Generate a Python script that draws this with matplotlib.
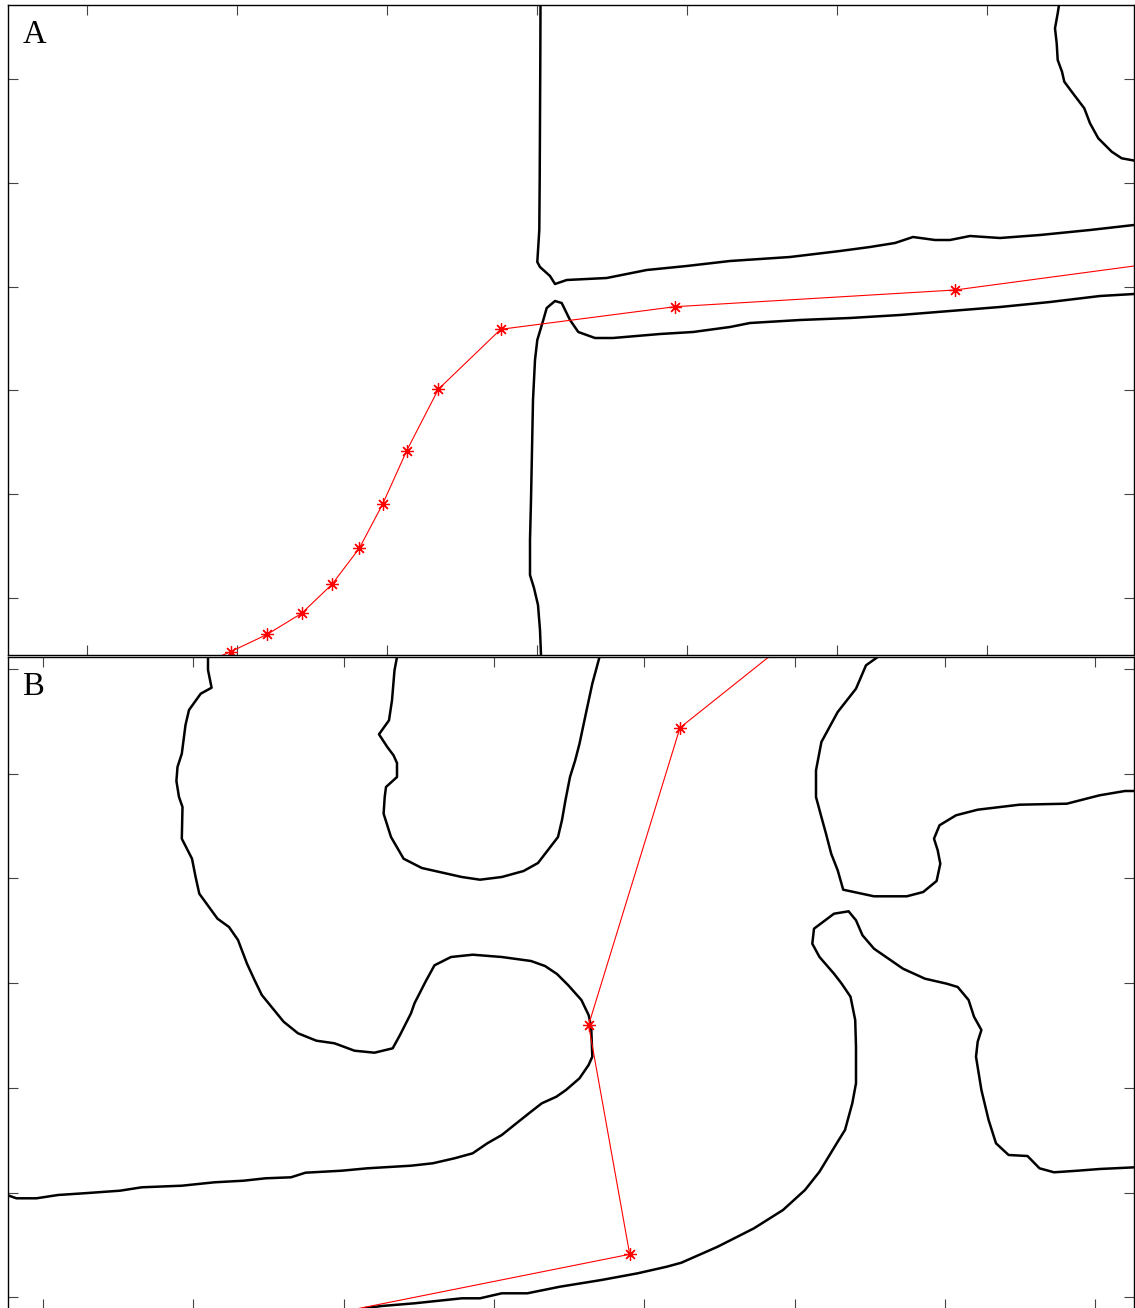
import numpy as np
import matplotlib
matplotlib.use("Agg")
import matplotlib.pyplot as plt

# all coordinates are in image pixel units (x to the right, y downward)

# panel A: black boundaries
a_top_x = [540.5, 540.3, 540, 539.7, 539.3, 537.3, 540, 550, 555, 566.7, 606.7, 646.7, 686.7, 730,
           790, 840, 870, 895, 913, 935, 950, 970, 1000, 1040, 1090, 1134]
a_top_y = [5, 60, 120, 180, 230, 262, 267, 276, 284, 280, 278, 270, 266, 261,
           257, 251, 247, 243, 237, 240, 240, 236, 238, 235, 230, 225]

a_low_x = [541, 540, 538, 534, 530, 530, 531, 532, 533, 535, 537.3, 543.3, 546.7, 555, 561.7, 570,
           578.3, 595, 613, 660, 693, 730, 750, 800, 850, 900, 950, 1000, 1050, 1100, 1134]
a_low_y = [655, 630, 605, 588, 575, 540, 500, 450, 400, 360, 340, 320, 308, 301, 303, 320,
           332, 338, 338, 334, 332, 327, 323, 320, 318, 315, 311, 307, 302, 296, 294]

a_corner_x = [1059, 1057.7, 1055, 1056.7, 1057.7, 1062, 1064.3, 1071.7, 1084.3, 1090, 1098.3,
              1111.7, 1121.7, 1135]
a_corner_y = [5, 13.3, 28.3, 43.3, 60, 71.7, 81.7, 91.7, 108.3, 123.3, 138.3, 151.7, 158.3, 160.7]

# panel A: red track
a_red_x = [205, 230.7, 267.3, 301.7, 332, 359.3, 382.7, 406.7, 438.3, 500.7, 675, 955, 1235]
a_red_y = [662.5, 651.7, 634.3, 613.3, 584.3, 548.3, 504, 450.7, 389.3, 329.3, 306.7, 290, 252.5]

# panel B: black boundaries
b_left_x = [208, 208, 211.6, 200.7, 189, 185.5, 181.8, 177.5, 176.4, 179, 182.5, 181.8, 192, 195.6,
            199.3, 217.5, 229, 238, 247, 254.5, 261.8, 283.6, 298, 316.4, 334.5, 354.5, 374.5,
            392.7, 400, 411, 414.5, 425.5, 434.5, 451, 472.7, 501.8, 531, 545, 557, 568, 581.4,
            588.6, 591.2, 592.3, 588.6, 579.5, 566, 556.4, 541.8, 531, 516.4, 501.8, 487.3,
            472.7, 454.5, 432.7, 411, 367.3, 341.8, 305.5, 291, 265.5, 243.6, 214.5, 181.8,
            141.8, 120, 83.6, 58, 36.4, 16.4, 9, 7]
b_left_y = [657, 670, 687.7, 693.7, 710, 725, 753.7, 767, 781, 797, 807, 838.7, 858.7, 877,
            893.7, 918.7, 927, 940, 963.7, 980, 995, 1021.7, 1033.3, 1040.7, 1043.3, 1050.7, 1052.7,
            1048.3, 1035, 1013.3, 1003.3, 981.7, 965.3, 957, 954.7, 957, 961, 966, 974, 985, 1000,
            1015, 1026.7, 1056.7, 1065, 1078.3, 1090, 1096.7, 1103.3, 1111.7, 1123.3, 1135, 1143.3,
            1153.3, 1158.3, 1163.3, 1165.7, 1168.3, 1170.7, 1172.7, 1177.3, 1178.3, 1180.7, 1182.3, 1185.7,
            1187.3, 1190.7, 1193.3, 1195, 1198.3, 1198.3, 1195.7, 1195]

b_cup_x = [397, 394.5, 392, 389, 379, 387.3, 393.5, 397, 397, 386, 384.7, 383.6, 391, 403.6, 421.8,
           461.8, 480, 501.8, 523.6, 538, 558, 562, 565.5, 570, 575.2, 579.5, 586, 592.3, 599.5]
b_cup_y = [657, 670.3, 700.3, 720.3, 734.3, 747, 755.3, 763, 777, 787, 797, 813.7, 837, 858.7, 868,
           877, 879.7, 877, 871, 863, 837, 820, 800, 777, 760.3, 743.7, 713, 683.7, 657]

b_low_x = [363.6, 381.8, 414.5, 461.8, 480, 501.8, 527.3, 560, 601.4, 637.7, 666.8, 681.4, 717.7, 754,
           783, 805, 819.5, 837.7, 845, 852.3, 856, 856, 855.2, 850.5, 841.4, 834, 819.5, 812.3,
           814, 834, 848.6, 856, 862.5, 874, 903, 925, 946.8, 957.7, 968.6, 974, 981.4, 977.7,
           976, 981.4, 988.6, 996, 1008.6, 1027.5, 1039.5, 1054, 1077.7, 1099.6, 1135]
b_low_y = [1308.3, 1306, 1303.3, 1298.3, 1298.3, 1293.3, 1293.3, 1286.7, 1280, 1273.3, 1266.7, 1262.7,
           1246.7, 1228.3, 1210, 1190, 1171.7, 1141.7, 1130, 1103.3, 1083.3, 1046.7, 1020, 996.7,
           983.3, 973.7, 957, 943.7, 928.7, 913.7, 911.3, 920.3, 935.3, 948.7, 968.7, 978.7, 983.7,
           987, 1000, 1016.7, 1030, 1041.7, 1056.7, 1090, 1120, 1143.3, 1155, 1156, 1168.3, 1172.3,
           1170.7, 1169, 1167.3]

b_right_x = [877.7, 866, 856, 837.7, 821.4, 816, 816, 821.4, 826, 831.2, 837.7, 843.2, 874, 906.8,
             923.2, 936.6, 940.3, 937.7, 934, 939.5, 956, 977.7, 1019.5, 1066.8, 1099.6, 1125, 1135]
b_right_y = [657, 665.3, 688.7, 712, 742, 770.3, 797, 817, 833.7, 853.7, 870.3, 889.7, 896.3, 896.3,
             892, 881, 863.7, 850.3, 838.7, 825.3, 815.3, 809.7, 804.7, 803.7, 795.3, 791, 791]

# panel B: red track
b_red_x = [790, 680, 588.6, 629.7, 300]
b_red_y = [640, 727.7, 1025, 1254.3, 1320.2]

W, H = 1135, 1308
fig = plt.figure(figsize=(W / 100, H / 100), dpi=100)

asterisk = (8, 2, 0)


def setup(ax, y0, y1, xticks, yticks, label):
    ax.set_xlim(8, 1134)
    ax.set_ylim(y1, y0)
    ax.set_xticks(xticks)
    ax.set_yticks(yticks)
    ax.tick_params(direction="in", length=7, width=0.8, color="#444444",
                   top=True, right=True, labelbottom=False, labelleft=False)
    for s in ax.spines.values():
        s.set_linewidth(1.0)
        s.set_color("black")
    ax.text(23, y0 + 38, label, family="Liberation Serif", fontsize=23.5,
            ha="left", va="baseline")


# panel A
axA = fig.add_axes([8 / W, (H - 655) / H, 1126 / W, 650 / H])
for xs, ys in [(a_top_x, a_top_y), (a_low_x, a_low_y), (a_corner_x, a_corner_y)]:
    axA.plot(xs, ys, color="black", lw=1.8, solid_joinstyle="round")
axA.plot(a_red_x, a_red_y, color="red", lw=0.8, marker=asterisk, ms=9, mew=0.9)
setup(axA, 5, 655, np.arange(87, 1134, 150), 79 + 103.8 * np.arange(6), "A")

# panel B
axB = fig.add_axes([8 / W, -1 / H, 1126 / W, 652 / H])
for xs, ys in [(b_left_x, b_left_y), (b_cup_x, b_cup_y), (b_low_x, b_low_y), (b_right_x, b_right_y)]:
    axB.plot(xs, ys, color="black", lw=1.8, solid_joinstyle="round")
axB.plot(b_red_x, b_red_y, color="red", lw=0.8, marker=asterisk, ms=9, mew=0.9)
setup(axB, 657, 1309, 43 + 150.3 * np.arange(8), 669 + 104.7 * np.arange(7), "B")

fig.savefig("out.png", dpi=100)
